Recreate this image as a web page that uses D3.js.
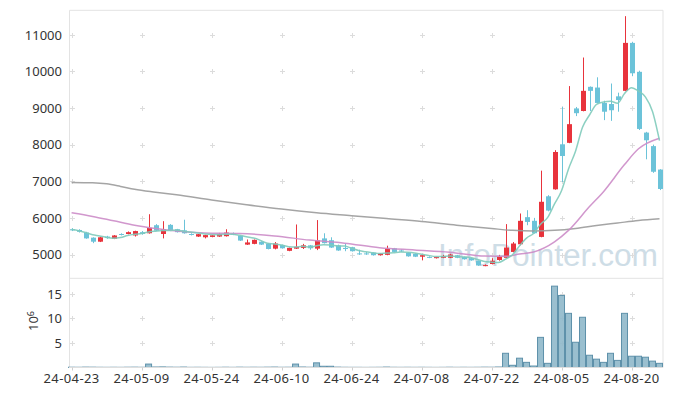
<!DOCTYPE html>
<html>
<head>
<meta charset="utf-8">
<script src="https://cdn.jsdelivr.net/npm/d3@7/dist/d3.min.js"></script>
<style>
  body { margin: 0; background: #fff; }
  text { font-family: "Noto Sans", sans-serif; fill: #333; }
</style>
</head>
<body>
<div id="chart"></div>
<script>
// trading days shown on the chart
const dates = [
  '24-04-23','24-04-24','24-04-25','24-04-26','24-04-29','24-04-30','24-05-02','24-05-03','24-05-07','24-05-08',
  '24-05-09','24-05-10','24-05-13','24-05-14','24-05-16','24-05-17','24-05-20','24-05-21','24-05-22','24-05-23',
  '24-05-24','24-05-27','24-05-28','24-05-29','24-05-30','24-05-31','24-06-03','24-06-04','24-06-05','24-06-07',
  '24-06-10','24-06-11','24-06-12','24-06-13','24-06-14','24-06-17','24-06-18','24-06-19','24-06-20','24-06-21',
  '24-06-24','24-06-25','24-06-26','24-06-27','24-06-28','24-07-01','24-07-02','24-07-03','24-07-04','24-07-05',
  '24-07-08','24-07-09','24-07-10','24-07-11','24-07-12','24-07-15','24-07-16','24-07-17','24-07-18','24-07-19',
  '24-07-22','24-07-23','24-07-24','24-07-25','24-07-26','24-07-29','24-07-30','24-07-31','24-08-01','24-08-02',
  '24-08-05','24-08-06','24-08-07','24-08-08','24-08-09','24-08-12','24-08-13','24-08-14','24-08-16','24-08-19',
  '24-08-20','24-08-21','24-08-22','24-08-23','24-08-26'
];

const openPrices = [
  5690,5670,5600,5460,5350,5490,5430,5560,5560,5520,
  5610,5580,5800,5560,5810,5690,5660,5560,5490,5470,
  5480,5490,5500,5570,5510,5270,5290,5350,5300,5160,
  5260,5100,5160,5180,5250,5160,5440,5390,5250,5180,
  5200,5030,5030,5050,4980,4990,5170,5110,5050,5020,
  4940,4935,4900,4910,4910,4980,4935,4900,4830,4690,
  4740,4850,4910,5070,5280,6020,5920,5480,6590,6780,
  8010,8050,8990,8920,9580,9560,9140,9110,9320,9470,
  10780,9990,8330,7960,7320
];
const highPrices = [
  5720,5690,5620,5470,5480,5510,5530,5580,5630,5650,
  5640,6100,5830,5910,5830,5700,5950,5580,5560,5540,
  5530,5590,5690,5600,5520,5410,5410,5360,5310,5340,
  5270,5190,5820,5290,5260,5940,5580,5470,5270,5300,
  5210,5130,5070,5060,5040,5240,5180,5140,5060,5030,
  4990,4950,4940,4990,5020,4990,4940,4910,4840,4730,
  4900,4990,5830,5340,6120,6210,6000,7290,6620,7850,
  9030,9600,9030,10380,9590,9840,9200,9670,9420,11510,
  10810,10020,8350,8000,7330
];
const lowPrices = [
  5640,5600,5430,5310,5340,5430,5420,5520,5550,5490,
  5540,5570,5640,5440,5640,5600,5570,5520,5480,5440,
  5470,5480,5490,5530,5370,5260,5280,5260,5140,5140,
  5160,5090,5150,5150,5130,5120,5300,5180,5100,5090,
  5080,4990,4990,4970,4970,4980,5060,5070,4940,4930,
  4840,4900,4890,4900,4900,4900,4860,4830,4690,4680,
  4730,4830,4900,5060,5250,5800,5570,5470,6180,6770,
  6980,8040,8780,8910,8920,9130,8670,8650,8900,9460,
  9870,8400,7600,7230,6760
];
const closePrices = [
  5660,5620,5440,5350,5470,5450,5520,5540,5610,5640,
  5560,5730,5650,5690,5650,5610,5580,5540,5555,5530,
  5525,5560,5600,5550,5380,5330,5400,5270,5150,5300,
  5170,5180,5210,5250,5170,5390,5310,5190,5110,5150,
  5090,5010,5010,4980,5030,5160,5070,5090,4950,4940,
  4980,4920,4930,4960,5000,4910,4870,4840,4700,4710,
  4830,4940,5190,5300,5920,5890,5580,6440,6200,7800,
  7690,8560,8860,9470,9470,9140,8900,8940,9220,10780,
  9950,8430,8120,7260,6790
];
// volume in millions of shares
const volumes = [
  0.06,0.05,0.08,0.07,0.05,0.04,0.05,0.04,0.06,0.07,
  0.05,0.7,0.1,0.12,0.08,0.06,0.09,0.04,0.05,0.04,
  0.03,0.04,0.06,0.04,0.07,0.05,0.06,0.05,0.07,0.09,
  0.05,0.06,0.7,0.1,0.06,0.95,0.25,0.25,0.08,0.05,
  0.04,0.04,0.03,0.04,0.05,0.09,0.05,0.04,0.05,0.04,
  0.05,0.04,0.03,0.04,0.06,0.04,0.05,0.04,0.05,0.07,
  0.06,0.1,2.9,0.45,1.9,1.05,0.3,6.15,0.85,16.6,
  14.7,11.05,5.15,10.25,2.5,1.7,1.05,2.9,1.45,11.05,
  2.3,2.3,2.1,1.3,0.85
];

// moving averages
const ma5 = [
  5680,5650,5600,5540,5508,5466,5446,5466,5518,5552,
  5574,5616,5638,5654,5656,5666,5636,5614,5587,5563,
  5546,5542,5554,5553,5523,5484,5452,5386,5306,5290,
  5258,5214,5202,5222,5196,5240,5266,5262,5234,5230,
  5170,5110,5074,5048,5024,5038,5050,5066,5060,5042,
  5006,4976,4944,4946,4958,4944,4934,4916,4864,4806,
  4790,4784,4874,4994,5236,5448,5576,5826,6006,6382,
  6742,7338,7822,8476,8810,9100,9168,9184,9134,9396,
  9558,9464,9300,8908,8110
];
const ma20Index = [0, 3, 6, 9, 12, 15, 19, 24, 29, 34, 39, 44, 49, 54, 59, 62, 64, 66, 69, 71, 74, 76, 79, 81, 84];
const ma20Values = [6140, 6040, 5920, 5800, 5710, 5640, 5590, 5574, 5508, 5393, 5310, 5185, 5123, 5064, 4958, 4950, 5011, 5068, 5346, 5658, 6309, 6717, 7456, 7887, 8175];
const ma120Index = [0, 3, 5, 7, 9, 12, 15, 20, 25, 30, 35, 40, 45, 50, 55, 60, 63, 66, 69, 72, 75, 78, 81, 84];
const ma120Values = [6970, 6960, 6930, 6860, 6780, 6700, 6630, 6490, 6360, 6240, 6140, 6060, 5980, 5900, 5800, 5710, 5660, 5645, 5660, 5710, 5790, 5860, 5930, 5975];

const priceTicks = [5000, 6000, 7000, 8000, 9000, 10000, 11000];
const volumeTicks = [5, 10, 15];
const dateTickIndex = [0, 10, 20, 30, 40, 50, 60, 70, 80];

const width = 673;
const height = 396;
const plot = { left: 69, right: 663, top: 10.3, split: 278.3, bottom: 367.5 };

const upColor = '#e8333c';
const downColor = '#6cc3d9';

const svg = d3.select('#chart').append('svg')
  .attr('width', width)
  .attr('height', height);

const x = d3.scaleLinear().domain([-0.37, 84.5]).range([plot.left, plot.right]);
const yPrice = d3.scaleLinear().domain([4350, 11670]).range([plot.split, plot.top]);
const yVol = d3.scaleLinear().domain([0, 18.2]).range([plot.bottom, plot.split]);

const candles = dates.map((d, i) => ({
  i, date: d,
  o: openPrices[i], h: highPrices[i], l: lowPrices[i], c: closePrices[i], v: volumes[i]
}));

// watermark
svg.append('text')
  .attr('x', 438)
  .attr('y', 266)
  .attr('textLength', 220)
  .attr('lengthAdjust', 'spacingAndGlyphs')
  .style('font-family', '"Liberation Sans", sans-serif')
  .style('font-size', '31px')
  .style('fill', '#a7c2d3')
  .style('opacity', 0.55)
  .text('InfoPointer.com');

// plus-shaped grid marks
const plusMarks = [];
dateTickIndex.forEach(i => {
  priceTicks.forEach(p => plusMarks.push([x(i), yPrice(p)]));
  volumeTicks.forEach(v => plusMarks.push([x(i), yVol(v)]));
});
const grid = svg.append('g').attr('stroke', '#dcdcdc').attr('stroke-width', 1);
grid.selectAll('path')
  .data(plusMarks)
  .join('path')
  .attr('d', d => {
    const px = Math.round(d[0]) + 0.5, py = Math.round(d[1]) + 0.5;
    return `M${px - 2.5},${py}H${px + 2.5}M${px},${py - 2.5}V${py + 2.5}`;
  });

// frame
const frame = svg.append('g').attr('stroke', '#e3e3e3').attr('fill', 'none');
frame.append('path')
  .attr('d', `M${plot.left + 0.5},${plot.bottom}V${plot.top}H${plot.right}V${plot.bottom}`);
frame.append('line')
  .attr('x1', plot.left).attr('x2', plot.right)
  .attr('y1', plot.split).attr('y2', plot.split);

// volume bars
const barW = x(1) - x(0);
svg.append('g')
  .selectAll('rect')
  .data(candles)
  .join('rect')
  .attr('x', d => x(d.i) - barW / 2 + 0.5)
  .attr('y', d => yVol(d.v))
  .attr('width', barW - 1)
  .attr('height', d => yVol(0) - yVol(d.v))
  .attr('fill', '#8fb8ca')
  .attr('fill-opacity', 0.9)
  .attr('stroke', '#5e91aa')
  .attr('stroke-width', 1);

svg.append('line')
  .attr('x1', plot.left).attr('x2', plot.right)
  .attr('y1', plot.bottom).attr('y2', plot.bottom)
  .attr('stroke', '#dedede');

// candles
const candleG = svg.append('g');
candleG.selectAll('line')
  .data(candles)
  .join('line')
  .attr('x1', d => Math.round(x(d.i)) + 0.5)
  .attr('x2', d => Math.round(x(d.i)) + 0.5)
  .attr('y1', d => yPrice(d.h))
  .attr('y2', d => yPrice(d.l))
  .attr('stroke', d => (d.c >= d.o ? upColor : downColor))
  .attr('stroke-width', 1);
candleG.selectAll('rect')
  .data(candles)
  .join('rect')
  .attr('x', d => Math.round(x(d.i)) - 2)
  .attr('y', d => yPrice(Math.max(d.o, d.c)))
  .attr('width', 5)
  .attr('height', d => Math.max(1, Math.abs(yPrice(d.o) - yPrice(d.c))))
  .attr('fill', d => (d.c >= d.o ? upColor : downColor));

// moving average lines
const line = d3.line()
  .x(d => x(d[0]))
  .y(d => yPrice(d[1]))
  .curve(d3.curveMonotoneX);

const maLines = [
  { pts: ma120Index.map((i, k) => [i, ma120Values[k]]), color: '#9b9b9b' },
  { pts: ma20Index.map((i, k) => [i, ma20Values[k]]), color: '#cc8cc8' },
  { pts: ma5.map((v, i) => [i, v]), color: '#7fcbbb' }
];
svg.append('g')
  .selectAll('path')
  .data(maLines)
  .join('path')
  .attr('d', d => line(d.pts))
  .attr('fill', 'none')
  .attr('stroke', d => d.color)
  .attr('stroke-width', 1.5)
  .attr('stroke-opacity', 0.9);

// axis labels
svg.append('g')
  .selectAll('text')
  .data(priceTicks)
  .join('text')
  .attr('x', 62)
  .attr('y', d => yPrice(d))
  .attr('dy', '0.36em')
  .attr('text-anchor', 'end')
  .style('font-size', '13px')
  .text(d => d);

svg.append('g')
  .selectAll('text')
  .data(volumeTicks)
  .join('text')
  .attr('x', 62)
  .attr('y', d => yVol(d))
  .attr('dy', '0.36em')
  .attr('text-anchor', 'end')
  .style('font-size', '13px')
  .text(d => d);

const unit = svg.append('text')
  .attr('transform', 'translate(38,321) rotate(-90)')
  .attr('text-anchor', 'middle')
  .style('font-size', '13px');
unit.append('tspan').text('10');
unit.append('tspan').attr('dy', '-0.5em').style('font-size', '9px').text('6');

svg.append('g')
  .selectAll('line')
  .data(dateTickIndex)
  .join('line')
  .attr('x1', i => Math.round(x(i)) + 0.5)
  .attr('x2', i => Math.round(x(i)) + 0.5)
  .attr('y1', plot.bottom)
  .attr('y2', plot.bottom + 3)
  .attr('stroke', '#cfcfcf');

svg.append('g')
  .selectAll('text')
  .data(dateTickIndex)
  .join('text')
  .attr('x', i => x(i))
  .attr('y', 383)
  .attr('text-anchor', 'middle')
  .style('font-size', '13px')
  .style('letter-spacing', '0.4px')
  .text(i => dates[i]);
</script>
</body>
</html>
